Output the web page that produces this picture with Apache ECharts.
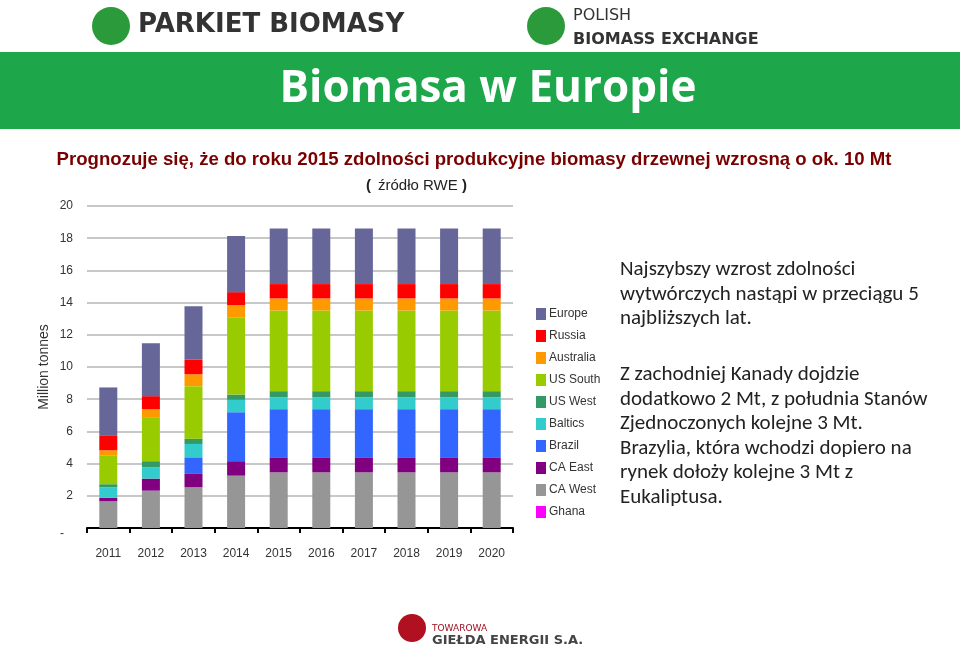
<!DOCTYPE html>
<html><head><meta charset="utf-8">
<script src="https://cdn.jsdelivr.net/npm/echarts@6/dist/echarts.min.js"></script>
<style>html,body{margin:0;padding:0;background:#fff}#c{width:960px;height:647px}</style>
</head><body><div id="c"></div>
<script>
const years = ['2011','2012','2013','2014','2015','2016','2017','2018','2019','2020'];
const caWest   = [1.66,2.32,2.53,3.25,3.46,3.46,3.46,3.46,3.46,3.46];
const caEast   = [0.21,0.75,0.83,0.90,0.93,0.93,0.93,0.93,0.93,0.93];
const brazil   = [0,0,1.03,3.04,2.99,2.99,2.99,2.99,2.99,2.99];
const baltics  = [0.66,0.70,0.83,0.77,0.74,0.74,0.74,0.74,0.74,0.74];
const usWest   = [0.19,0.38,0.33,0.33,0.38,0.38,0.38,0.38,0.38,0.38];
const usSouth  = [1.80,2.69,3.26,4.77,5.01,5.01,5.01,5.01,5.01,5.01];
const australia= [0.31,0.54,0.74,0.78,0.75,0.75,0.75,0.75,0.75,0.75];
const russia   = [0.93,0.81,0.90,0.81,0.89,0.89,0.89,0.89,0.89,0.89];
const europe   = [2.97,3.29,3.33,3.48,3.46,3.46,3.46,3.46,3.46,3.46];
const ghana    = [0,0,0,0,0,0,0,0,0,0];

const seriesDefs = [
  ['Ghana',ghana,'#ff00ff'],['CA West',caWest,'#969696'],['CA East',caEast,'#800080'],
  ['Brazil',brazil,'#3366ff'],['Baltics',baltics,'#33cccc'],['US West',usWest,'#339966'],
  ['US South',usSouth,'#99cc00'],['Australia',australia,'#ff9900'],['Russia',russia,'#ff0000'],
  ['Europe',europe,'#666699']
];
const chart = echarts.init(document.getElementById('c'));
const rtxt = ['Najszybszy wzrost zdolności','wytwórczych nastąpi w przeciągu 5','najbliższych lat.'];
const rtxt2 = ['Z zachodniej Kanady dojdzie','dodatkowo 2 Mt, z południa Stanów','Zjednoczonych kolejne 3 Mt.','Brazylia, która wchodzi dopiero na','rynek dołoży kolejne 3 Mt z','Eukaliptusa.'];
const tfont = {font:'21px Carlito, Calibri, "Open Sans", sans-serif', fill:'#222'};
const graphics = [
  {type:'rect',shape:{x:0,y:52,width:960,height:77},style:{fill:'#1da64a'}},
  {type:'text',x:488,y:89,style:{text:'Biomasa w Europie',font:'bold 44px "Open Sans", sans-serif',fill:'#fff',textAlign:'center',textVerticalAlign:'middle'}},
  {type:'circle',shape:{cx:111,cy:26,r:19},style:{fill:'#2a9a3a'}},
  {type:'text',x:138,y:38,style:{text:'PARKIET BIOMASY',font:'bold 26px "DejaVu Sans", sans-serif',fill:'#333',textVerticalAlign:'bottom'}},
  {type:'circle',shape:{cx:546,cy:26,r:19},style:{fill:'#2a9a3a'}},
  {type:'text',x:573,y:24,style:{text:'POLISH',font:'16px "DejaVu Sans", sans-serif',fill:'#333',textVerticalAlign:'bottom'}},
  {type:'text',x:573,y:48,style:{text:'BIOMASS EXCHANGE',font:'bold 16px "DejaVu Sans", sans-serif',fill:'#333',textVerticalAlign:'bottom'}},
  {type:'text',x:474,y:160,style:{text:'Prognozuje się, że do roku 2015 zdolności produkcyjne biomasy drzewnej wzrosną o ok. 10 Mt',font:'bold 18.6px "Liberation Sans", Arial, sans-serif',fill:'#7a0000',textAlign:'center',textVerticalAlign:'middle'}},
  {type:'text',x:366,y:186,style:{text:'( ',font:'bold 15px "Liberation Sans", Arial',fill:'#222',textVerticalAlign:'middle'}},
  {type:'text',x:378,y:186,style:{text:'źródło RWE',font:'15px "Liberation Sans", Arial',fill:'#222',textVerticalAlign:'middle'}},
  {type:'text',x:462,y:186,style:{text:')',font:'bold 15px "Liberation Sans", Arial',fill:'#222',textVerticalAlign:'middle'}},
  {type:'text',x:60,y:534,style:{text:'-',font:'12px "Liberation Sans Narrow", Arial',fill:'#333',textVerticalAlign:'middle'}},
  {type:'circle',shape:{cx:412,cy:628,r:14},style:{fill:'#b01020'}},
  {type:'text',x:432,y:633,style:{text:'TOWAROWA',font:'9px "DejaVu Sans"',fill:'#a01020',textVerticalAlign:'bottom'}},
  {type:'text',x:432,y:647,style:{text:'GIEŁDA ENERGII S.A.',font:'bold 13px "DejaVu Sans"',fill:'#444',textVerticalAlign:'bottom'}}
];
rtxt.forEach((t,i)=>graphics.push({type:'text',x:620,y:270+i*24.5,style:Object.assign({text:t,textVerticalAlign:'middle'},tfont)}));
rtxt2.forEach((t,i)=>graphics.push({type:'text',x:620,y:375+i*24.5,style:Object.assign({text:t,textVerticalAlign:'middle'},tfont)}));

chart.setOption({
  animation:false,
  graphic:graphics,
  grid:{left:87,right:447,top:206,bottom:119},
  legend:{orient:'vertical',left:531,top:303,itemWidth:10,itemHeight:12,itemGap:10,
    data:['Europe','Russia','Australia','US South','US West','Baltics','Brazil','CA East','CA West','Ghana'],
    textStyle:{fontFamily:'"Liberation Sans Narrow", Arial',fontSize:12,color:'#333',padding:[6,0,0,-2]},icon:'rect'},
  xAxis:{type:'category',data:years,axisLine:{lineStyle:{color:'#000',width:2}},axisTick:{show:true,length:5,lineStyle:{color:'#000',width:2}},
    axisLabel:{fontFamily:'"Liberation Sans Narrow", Arial',fontSize:12,color:'#333',margin:20}},
  yAxis:{type:'value',min:0,max:20,interval:2,name:'Million tonnes',nameLocation:'middle',nameGap:36,nameRotate:90,
    nameTextStyle:{fontFamily:'"Liberation Sans Narrow", Arial',fontSize:14,color:'#333'},
    axisLabel:{fontFamily:'"Liberation Sans Narrow", Arial',fontSize:12,color:'#333',margin:14,formatter:v=>v===0?'':v},
    splitLine:{lineStyle:{color:'#c8c8c8',width:2}},axisLine:{show:false},axisTick:{show:false}},
  series:seriesDefs.map(([n,d,c])=>({name:n,type:'bar',stack:'t',data:d,barWidth:18,itemStyle:{color:c}}))
});
</script></body></html>
